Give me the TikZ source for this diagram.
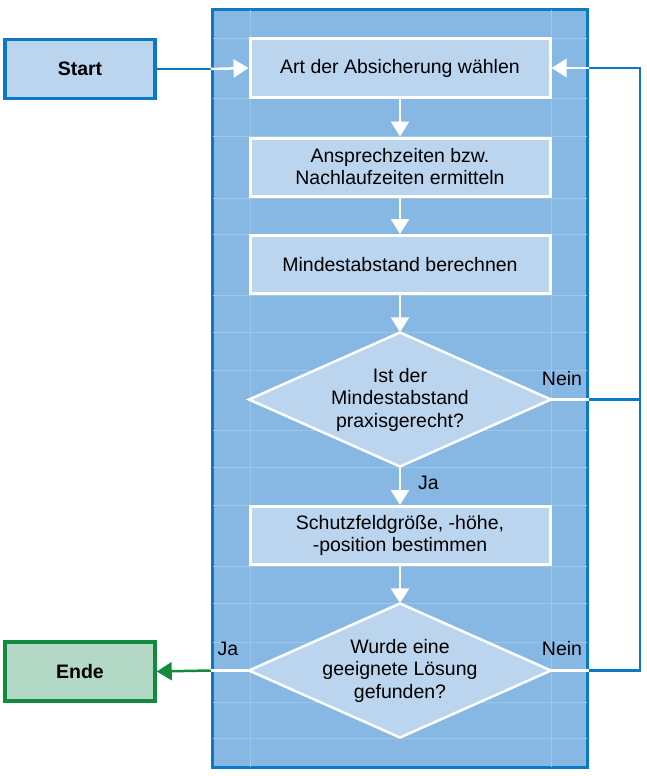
\documentclass[tikz,border=0pt]{standalone}
\usepackage{fontspec}
\setmainfont{Liberation Sans}
\usetikzlibrary{arrows.meta}
\definecolor{panelfill}{HTML}{86B8E3}
\definecolor{panelborder}{HTML}{0B79C4}
\definecolor{boxfill}{HTML}{BBD5EF}
\definecolor{gridc}{HTML}{9CC6EA}
\definecolor{endborder}{HTML}{138B3F}
\definecolor{endfill}{HTML}{B3D8C6}
\tikzset{
  panel/.style={draw=panelborder, fill=panelfill, line width=3.5pt, minimum width=375pt, minimum height=758pt, inner sep=0pt},
  stepbox/.style={draw=white, fill=boxfill, line width=3pt, minimum width=300pt, minimum height=58pt, inner sep=0pt, align=center, font=\fontsize{19.5}{22}\selectfont},
  decision/.style={minimum width=300pt, minimum height=134pt, inner sep=0pt, align=center, font=\fontsize{19.5}{22.5}\selectfont},
  diamondbg/.style={draw=white, fill=boxfill, line width=2.5pt, line join=miter},
  terminal/.style={draw=panelborder, fill=boxfill, line width=3.5pt, minimum width=150pt, minimum height=59pt, inner sep=0pt, font=\bfseries\fontsize{19.5}{22}\selectfont},
  endbox/.style={terminal, draw=endborder, fill=endfill},
  wline/.style={draw=white, line width=2.5pt},
  warrow/.style={wline, -{Triangle[width=18pt,length=15pt]}},
  bline/.style={draw=panelborder, line width=2.5pt},
  garrow/.style={draw=endborder, line width=2.5pt, -{Triangle[width=18pt,length=15pt]}},
  lbl/.style={font=\fontsize{19.5}{22}\selectfont, inner sep=0pt},
  gridl/.style={draw=gridc, line width=0.8pt}
}
\begin{document}
\begin{tikzpicture}[x=1pt,y=-1pt]
\useasboundingbox (0,0) rectangle (647,776);
\node[panel] (panel) at (400,388.5) {};
% faint grid
\foreach \yy in {38,98,136,198,234,295,332,370,430,467,505,566,603,642,702,738}
  \draw[gridl] (213,\yy) -- (587,\yy);
\foreach \xx in {250,551}
  \draw[gridl] (\xx,10) -- (\xx,767);
% diamond backgrounds
\path[diamondbg] (400,332.5) -- (551,399.5) -- (400,466.5) -- (249,399.5) -- cycle;
\path[diamondbg] (400,603.5) -- (551,670.5) -- (400,737.5) -- (249,670.5) -- cycle;
% nodes
\node[terminal] (start) at (80,69) {Start};
\node[endbox] (ende) at (80,671.5) {Ende};
\node[stepbox] (s1) at (400,68) {Art der Absicherung wählen};
\node[stepbox] (s2) at (400,167) {Ansprechzeiten bzw.\\Nachlaufzeiten ermitteln};
\node[stepbox] (s3) at (400,264.5) {Mindestabstand berechnen};
\node[decision] (d1) at (400,399.5) {Ist der\\Mindestabstand\\praxisgerecht?};
\node[stepbox] (s5) at (400,535.5) {Schutzfeldgröße, -höhe,\\-position bestimmen};
\node[decision] (d2) at (400,670.5) {Wurde eine\\geeignete Lösung\\gefunden?};
% helper coordinates
\coordinate (pin) at (panel.west |- start.east);
\coordinate (pout1) at (panel.east |- d1.east);
\coordinate (pout2) at (panel.east |- d2.east);
\coordinate (pback) at (panel.east |- s1.east);
\coordinate (pleft) at (panel.west |- d2.west);
\coordinate (rx) at (640,0);
% connectors
\draw[bline] (start.east) -- (pin);
\draw[warrow] (pin) -- (s1.west);
\draw[warrow] (s1.south) -- (s2.north);
\draw[warrow] (s2.south) -- (s3.north);
\draw[warrow] (s3.south) -- (d1.north);
\draw[warrow] (d1.south) -- (s5.north);
\draw[warrow] (s5.south) -- (d2.north);
\draw[wline] (d1.east) -- (pout1);
\draw[wline] (d2.east) -- (pout2);
\draw[bline] (pout1) -- (rx |- pout1);
\draw[bline] (pout2) -- (rx |- pout2) -- (rx |- pback) -- (pback);
\draw[warrow] (pback) -- (s1.east);
\draw[wline] (d2.west) -- (pleft);
\draw[garrow] (pleft) -- (ende.east);
% labels
\node[lbl, anchor=base] (n1) at (562,385) {Nein};
\node[lbl, anchor=base west] (j1) at (418,489) {Ja};
\node[lbl, anchor=base] (n2) at (562,655) {Nein};
\node[lbl, anchor=base] (j2) at (228,655) {Ja};
\end{tikzpicture}
\end{document}
